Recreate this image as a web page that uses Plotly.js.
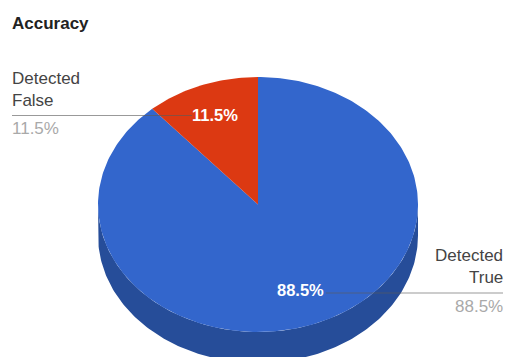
<!DOCTYPE html>
<html>
<head>
<meta charset="utf-8">
<script src="https://cdn.plot.ly/plotly-3.0.1.min.js"></script>
<style>html,body{margin:0;padding:0;background:#fff}#chart{width:505px;height:357px}</style>
</head>
<body>
<div id="chart"></div>
<script>
// Share of detections per outcome, in percent
const categories = ['Detected True', 'Detected False'];
const shares = [88.5, 11.5];
const topColors = ['#3366cc', '#dc3912'];
const sideColor = '#264d99';

// Tilted disc geometry, in axis units (1 unit = 1 px)
const cx = 258, cy = 204.5, rx = 160, ry = 127.5, depth = 31;

// Point on the disc rim; the angle runs clockwise from twelve o'clock
const rim = (deg, drop) => {
  const a = deg * Math.PI / 180;
  return [cx + rx * Math.sin(a), cy - ry * Math.cos(a) + (drop || 0)];
};

// Angles between fromDeg and toDeg in one-degree steps
function sweep(fromDeg, toDeg) {
  const out = [];
  const n = Math.ceil(Math.abs(toDeg - fromDeg));
  for (let i = 0; i <= n; i++) out.push(fromDeg + (toDeg - fromDeg) * i / n);
  return out;
}

// Filled wedge for a slice, from the value's share of the full turn
function wedge(startDeg, value, color) {
  const pts = sweep(startDeg, startDeg + value / 100 * 360).map(d => rim(d));
  return {
    type: 'scatter', mode: 'lines', fill: 'toself', fillcolor: color,
    x: [cx, ...pts.map(p => p[0]), cx], y: [cy, ...pts.map(p => p[1]), cy],
    line: {width: 0, color: color}, hoverinfo: 'skip', showlegend: false
  };
}

// Visible outer wall of the disc: front half of the rim, extruded downward
const front = sweep(90, 270);
const wall = {
  type: 'scatter', mode: 'lines', fill: 'toself', fillcolor: sideColor,
  x: [...front.map(d => rim(d)[0]), ...front.slice().reverse().map(d => rim(d, depth)[0])],
  y: [...front.map(d => rim(d)[1]), ...front.slice().reverse().map(d => rim(d, depth)[1])],
  line: {width: 0, color: sideColor}, hoverinfo: 'skip', showlegend: false
};

// Slices start at twelve o'clock and run clockwise
let start = 0;
const slices = shares.map((v, i) => {
  const t = wedge(start, v, topColors[i]);
  start += v / 100 * 360;
  return t;
});

// Leader lines joining outer labels to the in-slice percentages
const leader = (xs, y) => ({
  type: 'scatter', mode: 'lines', x: xs, y: [y, y],
  line: {width: 1, color: 'rgba(90,90,90,0.62)'}, hoverinfo: 'skip', showlegend: false
});
const leaders = [leader([12, 192], 115.5), leader([326, 503], 293)];

const pct = v => v.toFixed(1) + '%';
const words = c => c.split(' ');

const note = (text, x, y, anchor, size, color, bold) => ({
  text: bold ? '<b>' + text + '</b>' : text,
  x, y, xref: 'x', yref: 'y', xanchor: anchor, yanchor: 'middle',
  showarrow: false, font: {family: 'Liberation Sans, Arial, sans-serif', size, color}
});

const annotations = [
  note(words(categories[1])[0], 10, 78, 'left', 17, '#444444'),
  note(words(categories[1])[1], 10, 100, 'left', 17, '#444444'),
  note(pct(shares[1]), 10, 128, 'left', 17, '#a9a9a9'),
  note(words(categories[0])[0], 505, 255, 'right', 17, '#444444'),
  note(words(categories[0])[1], 505, 277, 'right', 17, '#444444'),
  note(pct(shares[0]), 505, 306, 'right', 17, '#a9a9a9'),
  note(pct(shares[1]), 215, 115, 'center', 16.5, '#ffffff', true),
  note(pct(shares[0]), 300, 290, 'center', 16.5, '#ffffff', true)
];

const hidden = {visible: false, fixedrange: true};

Plotly.newPlot('chart', [wall, ...slices, ...leaders], {
  width: 505, height: 357,
  margin: {l: 0, r: 0, t: 0, b: 0},
  paper_bgcolor: '#ffffff', plot_bgcolor: '#ffffff',
  title: {
    text: '<b>Accuracy</b>', x: 12 / 505, xanchor: 'left', y: 1 - 23 / 357, yanchor: 'middle',
    font: {family: 'Liberation Sans, Arial, sans-serif', size: 17, color: '#222222'}
  },
  xaxis: Object.assign({range: [0, 505]}, hidden),
  yaxis: Object.assign({range: [357, 0]}, hidden),
  annotations, showlegend: false
}, {displayModeBar: false, staticPlot: true});
</script>
</body>
</html>
